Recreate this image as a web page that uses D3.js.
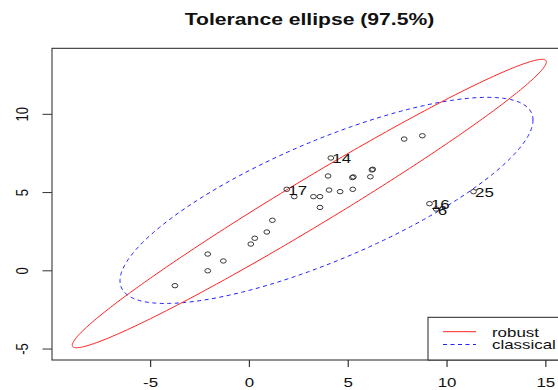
<!DOCTYPE html>
<html>
<head>
<meta charset="utf-8">
<script src="https://cdn.jsdelivr.net/npm/d3@7"></script>
<style>
  html, body { margin: 0; padding: 0; background: #fff; }
  svg { display: block; }
  text { font-family: "Liberation Sans", Arial, sans-serif; fill: #111; }
</style>
</head>
<body>
<svg id="chart" width="558" height="390"></svg>
<script>
// Observations (x, y) and the ids shown for flagged points
const pointX = [-3.77, -2.11, -2.11, -1.32, 0.07, 0.27, 0.88, 1.16, 1.89, 2.27,
                3.24, 3.57, 3.57, 4.03, 3.98, 4.12, 4.59, 5.23, 5.26, 5.21,
                6.12, 6.24, 6.20, 7.83, 8.75, 11.34, 9.11, 9.45];
const pointY = [-0.95, 1.07, 0.00, 0.63, 1.71, 2.08, 2.48, 3.23, 5.21, 4.74,
                4.74, 4.74, 4.05, 5.16, 6.06, 7.21, 5.06, 5.21, 6.00, 5.96,
                6.01, 6.49, 6.45, 8.42, 8.63, 5.06, 4.29, 3.95];
const pointIds = ["", "", "", "", "", "", "", "", "17", "",
                  "", "", "", "", "", "14", "", "", "", "",
                  "", "", "", "", "", "25", "16", "6"];

// Location / scatter estimates used for the 97.5% tolerance ellipses
const robustCenter = [3.03, 4.30];
const robustCov = [[19.5, 14.71], [14.71, 11.51]];
const classicalCenter = [3.9, 4.5];
const classicalCov = [[14.8, 7.27], [7.27, 5.88]];
const chiQuantile = 7.3778; // qchisq(0.975, 2)

const xTicks = [-5, 0, 5, 10, 15];
const yTicks = [-5, 0, 5, 10];
const legendLabels = ["robust", "classical"];
const titleText = "Tolerance ellipse (97.5%)";

const svg = d3.select("#chart");
const stretch = 1.3; // horizontal text aspect

const plot = { left: 52, right: 567, top: 48.3, bottom: 360 };
const x = d3.scaleLinear().domain([-9.99, 16.07]).range([plot.left, plot.right]);
const y = d3.scaleLinear().domain([-5.70, 14.22]).range([plot.bottom, plot.top]);

svg.append("defs").append("clipPath").attr("id", "plotClip")
  .append("rect")
  .attr("x", plot.left).attr("y", plot.top)
  .attr("width", plot.right - plot.left).attr("height", plot.bottom - plot.top);

// Ellipse outline: center + sqrt(q) * chol(S) * (cos t, sin t)
function ellipsePoints(center, S) {
  const a = Math.sqrt(S[0][0]);
  const b = S[0][1] / a;
  const c = Math.sqrt(S[1][1] - b * b);
  const r = Math.sqrt(chiQuantile);
  return d3.range(0, 361).map(deg => {
    const t = deg * Math.PI / 180;
    const u = Math.cos(t), v = Math.sin(t);
    return [center[0] + r * a * u, center[1] + r * (b * u + c * v)];
  });
}

const line = d3.line().x(d => x(d[0])).y(d => y(d[1]));
const g = svg.append("g").attr("clip-path", "url(#plotClip)");

g.append("path")
  .attr("d", line(ellipsePoints(classicalCenter, classicalCov)))
  .attr("fill", "none").attr("stroke", "#1f1fff").attr("stroke-width", 1)
  .attr("stroke-dasharray", "4,3.5");

g.append("path")
  .attr("d", line(ellipsePoints(robustCenter, robustCov)))
  .attr("fill", "none").attr("stroke", "#ff2020").attr("stroke-width", 1);

// Points
const pts = pointX.map((v, i) => ({ x: v, y: pointY[i], id: pointIds[i] }));
g.selectAll("ellipse.pt").data(pts).enter().append("ellipse")
  .attr("class", "pt")
  .attr("cx", d => x(d.x)).attr("cy", d => y(d.y))
  .attr("rx", 2.9).attr("ry", 2.2)
  .attr("fill", "none").attr("stroke", "#222").attr("stroke-width", 0.9);

g.selectAll("text.id").data(pts.filter(d => d.id)).enter().append("text")
  .attr("class", "id")
  .attr("transform", d => `translate(${x(d.x) + 1.5},${y(d.y) + 5.5}) scale(${stretch},1)`)
  .attr("font-size", 13)
  .text(d => d.id);

// Plot frame
svg.append("rect")
  .attr("x", plot.left).attr("y", plot.top)
  .attr("width", plot.right - plot.left).attr("height", plot.bottom - plot.top)
  .attr("fill", "none").attr("stroke", "#222").attr("stroke-width", 1);

// X axis
const xAxis = svg.append("g");
xAxis.selectAll("line").data(xTicks).enter().append("line")
  .attr("x1", d => x(d)).attr("x2", d => x(d))
  .attr("y1", plot.bottom).attr("y2", plot.bottom + 7)
  .attr("stroke", "#333").attr("stroke-width", 1.2);
xAxis.selectAll("text").data(xTicks).enter().append("text")
  .attr("transform", d => `translate(${x(d)},387) scale(${stretch},1)`)
  .attr("text-anchor", "middle").attr("font-size", 13)
  .text(d => d);

// Y axis
const yAxis = svg.append("g");
yAxis.selectAll("line").data(yTicks).enter().append("line")
  .attr("x1", plot.left - 9.5).attr("x2", plot.left)
  .attr("y1", d => y(d)).attr("y2", d => y(d))
  .attr("stroke", "#333").attr("stroke-width", 1);
yAxis.selectAll("text").data(yTicks).enter().append("text")
  .attr("transform", d => `translate(28,${y(d)}) scale(${stretch},1) rotate(-90)`)
  .attr("text-anchor", "middle").attr("font-size", 13)
  .text(d => d);

// Title
svg.append("text")
  .attr("transform", `translate(${(plot.left + plot.right) / 2},24.5) scale(1.32,1)`)
  .attr("text-anchor", "middle").attr("font-size", 16).attr("font-weight", "bold")
  .text(titleText);

// Legend (bottom right)
const lg = svg.append("g");
lg.append("rect")
  .attr("x", 428).attr("y", 317.3)
  .attr("width", plot.right - 428).attr("height", plot.bottom - 317.3)
  .attr("fill", "#fff").attr("stroke", "#222").attr("stroke-width", 1);
const legendStyles = [
  { color: "#ff2020", dash: null },
  { color: "#1f1fff", dash: "4,3.5" }
];
legendLabels.forEach((lab, i) => {
  const yy = 331.7 + i * 12.8;
  lg.append("line")
    .attr("x1", 443).attr("x2", 476).attr("y1", yy).attr("y2", yy)
    .attr("stroke", legendStyles[i].color).attr("stroke-width", 1)
    .attr("stroke-dasharray", legendStyles[i].dash);
  lg.append("text")
    .attr("transform", `translate(492,${yy + 4.8}) scale(${stretch},1)`)
    .attr("font-size", 13)
    .text(lab);
});
</script>
</body>
</html>
